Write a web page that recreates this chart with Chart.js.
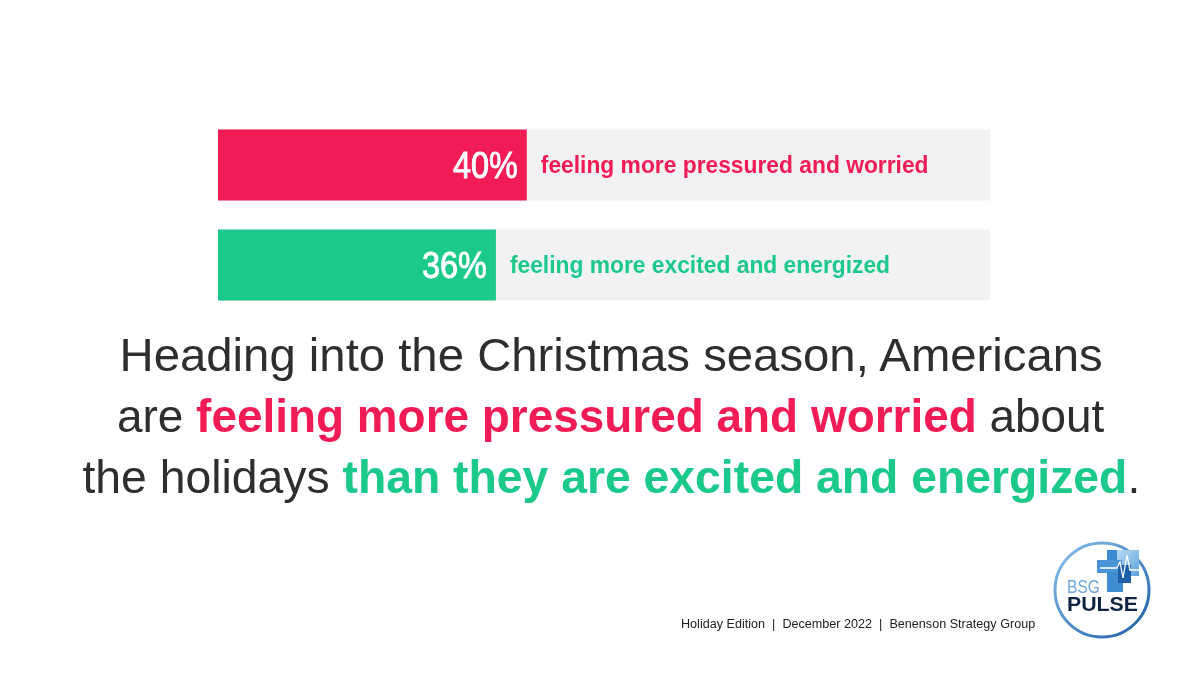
<!DOCTYPE html>
<html>
<head>
<meta charset="utf-8">
<script src="https://cdn.jsdelivr.net/npm/chart.js@4"></script>
<style>
  html, body { margin: 0; padding: 0; background: #fff; }
  #wrap { position: relative; width: 1200px; height: 675px; overflow: hidden; }
  #chart { position: absolute; left: 0; top: 0; }
  .headline { position: absolute; left: 0; width: 1222px; text-align: center;
    font-family: "Liberation Sans", Arial, sans-serif; font-size: 46px; line-height: 61px;
    color: #2e2e2e; white-space: nowrap; }
  .headline span.line { display: inline-block; transform-origin: center; }
  .headline b { font-weight: bold; }
  .red { color: #f11b55; }
  .green { color: #1bc98b; }
  #footer { position: absolute; left: 681px; top: 616px; font-family: "Liberation Sans", Arial, sans-serif;
    font-size: 13px; color: #222; white-space: nowrap; transform-origin: left center; }
  #logo { position: absolute; left: 1050px; top: 538px; }
</style>
</head>
<body>
<div id="wrap">
  <canvas id="chart" width="1200" height="675"></canvas>

  <div class="headline" style="top:325px"><span class="line" data-w="983">Heading into the Christmas season, Americans</span></div>
  <div class="headline" style="top:386px"><span class="line" data-w="987">are <b class="red">feeling more pressured and worried</b> about</span></div>
  <div class="headline" style="top:447px"><span class="line" data-w="1058">the holidays <b class="green">than they are excited and energized</b>.</span></div>

  <div id="footer" data-w="354">Holiday Edition&nbsp;&nbsp;|&nbsp;&nbsp;December 2022&nbsp;&nbsp;|&nbsp;&nbsp;Benenson Strategy Group</div>

  <svg id="logo" width="106" height="106" viewBox="1050 538 106 106">
    <defs>
      <linearGradient id="ring" x1="0" y1="0" x2="1" y2="1">
        <stop offset="0" stop-color="#8cc0ea"/>
        <stop offset="1" stop-color="#1c5ea6"/>
      </linearGradient>
      <linearGradient id="pane" x1="0" y1="0" x2="1" y2="1">
        <stop offset="0" stop-color="#b9daf4"/>
        <stop offset="1" stop-color="#5ea3dd"/>
      </linearGradient>
    </defs>
    <circle cx="1102" cy="590" r="47" fill="#fff" stroke="url(#ring)" stroke-width="3"/>
    <rect x="1107" y="550" width="21" height="12" fill="#3d8ad0"/>
    <rect x="1117" y="550" width="22" height="26" fill="url(#pane)"/>
    <rect x="1097" y="560" width="25" height="13" fill="#4a95d6"/>
    <rect x="1107" y="572" width="16" height="20" fill="#3f8bd0"/>
    <rect x="1118" y="565" width="13" height="18" fill="#1d5ea8"/>
    <polyline points="1100,568 1117,568 1120,562 1123,578 1127,555 1130,570 1140,570"
      fill="none" stroke="#fff" stroke-width="1.3"/>
    <text x="1067" y="593" font-family="Liberation Sans, Arial" font-size="19" fill="#6ea6da"
      textLength="33" lengthAdjust="spacingAndGlyphs">BSG</text>
    <text x="1067" y="611" font-family="Liberation Sans, Arial" font-weight="bold" font-size="21"
      fill="#0e2442" textLength="71" lengthAdjust="spacingAndGlyphs">PULSE</text>
  </svg>
</div>

<script>
// data
const categories = ["feeling more pressured and worried", "feeling more excited and energized"]
const shares = [40, 36]
const fullScale = [100, 100]
const barColors = ["#f11b55", "#1bc98b"]
const trackColor = "#f2f2f2"

function drawSqueezed(ctx, text, x, y, align, squeeze, stroke) {
    const w = ctx.measureText(text).width * squeeze
    ctx.save()
    ctx.translate(align === "right" ? x - w : x, y)
    ctx.scale(squeeze, 1)
    ctx.textAlign = "left"
    ctx.fillText(text, 0, 0)
    if (stroke) {
        ctx.strokeStyle = ctx.fillStyle
        ctx.lineWidth = stroke
        ctx.strokeText(text, 0, 0)
    }
    ctx.restore()
}

// =========================
// LABELS ON THE BARS
// =========================
const barLabels = {
    id: "barLabels",
    afterDatasetsDraw(chart) {
        const ctx = chart.ctx
        const meta = chart.getDatasetMeta(0)
        ctx.save()
        ctx.textBaseline = "alphabetic"
        meta.data.forEach((bar, i) => {
            // percent inside the bar
            ctx.fillStyle = "#ffffff"
            ctx.font = "36px 'Liberation Sans', Arial, sans-serif"
            drawSqueezed(ctx, shares[i] + "%", bar.x - 9, bar.y + 13, "right", 0.9, 0.9)

            // label after the bar
            ctx.fillStyle = barColors[i]
            ctx.font = "bold 24px 'Liberation Sans', Arial, sans-serif"
            drawSqueezed(ctx, categories[i], bar.x + 14, bar.y + 8, "left", 0.95, 0)
        })
        ctx.restore()
    }
}

new Chart(document.getElementById("chart"), {
    type: "bar",
    data: {
        labels: categories,
        datasets: [
            {
                data: shares,
                backgroundColor: barColors,
                barPercentage: 0.71,
                categoryPercentage: 1,
                grouped: false,
                order: 1
            },
            {
                data: fullScale,
                backgroundColor: trackColor,
                barPercentage: 0.71,
                categoryPercentage: 1,
                grouped: false,
                order: 2
            }
        ]
    },
    options: {
        indexAxis: "y",
        responsive: false,
        animation: false,
        layout: { padding: { left: 218, right: 210, top: 115, bottom: 360 } },
        scales: {
            x: { min: 0, max: 100, display: false },
            y: { display: false }
        },
        plugins: {
            legend: { display: false },
            tooltip: { enabled: false }
        }
    },
    plugins: [barLabels]
})

// fit headline lines and footer to their widths
document.querySelectorAll(".headline span.line").forEach(el => {
    const target = Number(el.dataset.w)
    el.style.transform = "scaleX(" + (target / el.offsetWidth) + ")"
})
const footer = document.getElementById("footer")
footer.style.transform = "scaleX(" + (Number(footer.dataset.w) / footer.offsetWidth) + ")"
</script>
</body>
</html>
